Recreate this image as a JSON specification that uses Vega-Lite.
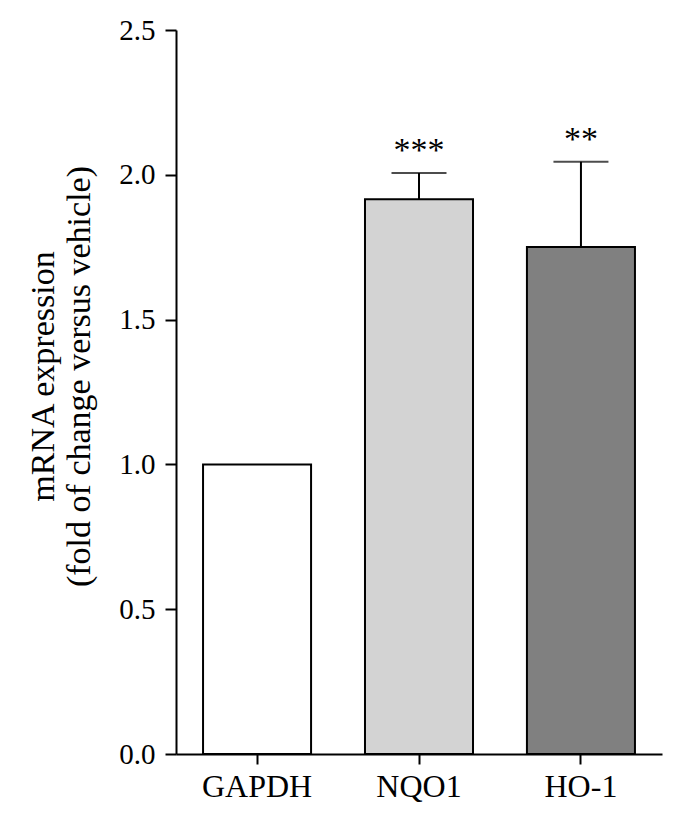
{
  "$schema": "https://vega.github.io/schema/vega-lite/v6.json",
  "autosize": "none",
  "width": 486,
  "height": 724,
  "padding": {"left": 176, "top": 30, "right": 28, "bottom": 76},
  "background": "white",
  "config": {
    "view": {"stroke": null},
    "font": "Liberation Serif"
  },
  "data": {
    "values": [
      {"gene": "GAPDH", "value": 1.0, "err": null, "sig": ""},
      {"gene": "NQO1", "value": 1.916, "err": 2.006, "sig": "***"},
      {"gene": "HO-1", "value": 1.751, "err": 2.045, "sig": "**"}
    ]
  },
  "encoding": {
    "x": {
      "field": "gene",
      "type": "nominal",
      "sort": ["GAPDH", "NQO1", "HO-1"],
      "scale": {"paddingInner": 0.333, "paddingOuter": 0.167},
      "axis": {
        "title": null,
        "labelAngle": 0,
        "labelFont": "Liberation Serif",
        "labelFontSize": 32,
        "labelColor": "black",
        "labelPadding": 7,
        "domainColor": "black",
        "domainWidth": 2,
        "tickColor": "black",
        "tickWidth": 2,
        "tickSize": 10
      }
    }
  },
  "layer": [
    {
      "mark": {"type": "bar", "stroke": "black", "strokeWidth": 2},
      "encoding": {
        "y": {
          "field": "value",
          "type": "quantitative",
          "scale": {"domain": [0, 2.5], "nice": false},
          "axis": {
            "values": [0, 0.5, 1, 1.5, 2, 2.5],
            "format": ".1f",
            "grid": false,
            "title": ["mRNA expression", "(fold of change versus vehicle)"],
            "titleFont": "Liberation Serif",
            "titleFontSize": 34,
            "titleFontWeight": "normal",
            "titleColor": "black",
            "titleLineHeight": 36,
            "titlePadding": 22,
            "titleY": 346,
            "labelFont": "Liberation Serif",
            "labelFontSize": 29,
            "labelColor": "black",
            "labelPadding": 10,
            "domainColor": "black",
            "domainWidth": 2,
            "tickColor": "black",
            "tickWidth": 2,
            "tickSize": 11
          }
        },
        "fill": {
          "field": "gene",
          "type": "nominal",
          "scale": {"domain": ["GAPDH", "NQO1", "HO-1"], "range": ["#ffffff", "#d3d3d3", "#808080"]},
          "legend": null
        }
      }
    },
    {
      "transform": [{"filter": "datum.err != null"}],
      "mark": {"type": "rule", "color": "black", "strokeWidth": 2},
      "encoding": {
        "y": {"field": "value", "type": "quantitative"},
        "y2": {"field": "err"}
      }
    },
    {
      "transform": [{"filter": "datum.err != null"}],
      "mark": {"type": "tick", "color": "black", "thickness": 2, "size": 55, "orient": "horizontal"},
      "encoding": {
        "y": {"field": "err", "type": "quantitative"}
      }
    },
    {
      "transform": [{"filter": "datum.err != null"}],
      "mark": {"type": "text", "font": "Liberation Serif", "fontSize": 34, "color": "black", "baseline": "middle", "dy": -22},
      "encoding": {
        "y": {"field": "err", "type": "quantitative"},
        "text": {"field": "sig"}
      }
    }
  ]
}
